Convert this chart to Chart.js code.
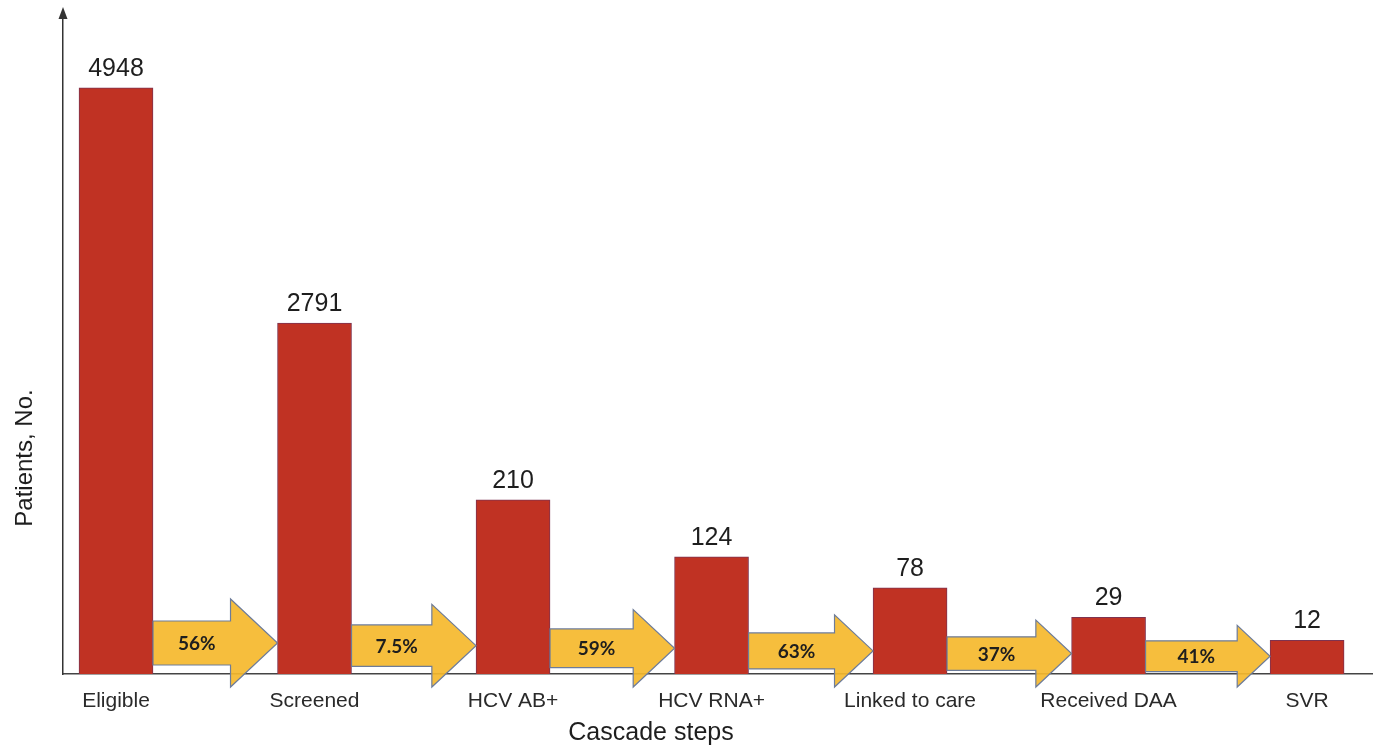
<!DOCTYPE html>
<html>
<head>
<meta charset="utf-8">
<title>HCV care cascade</title>
<script src="https://cdn.jsdelivr.net/npm/chart.js@4.4.1/dist/chart.umd.min.js"></script>
<style>
  html, body { margin: 0; padding: 0; background: #ffffff; }
  canvas { display: block; }
</style>
</head>
<body>
<canvas id="cascade" width="1374" height="745"></canvas>
<script>
// Cascade steps and patient counts at each step
const steps = ['Eligible', 'Screened', 'HCV AB+', 'HCV RNA+', 'Linked to care', 'Received DAA', 'SVR'];
const patients = [4948, 2791, 210, 124, 78, 29, 12];
// Share of patients carried from one step to the next
const conversion = ['56%', '7.5%', '59%', '63%', '37%', '41%'];

// Compressed value axis: [value, fraction of axis height] break points
const axisBreaks = [
  [0, 0], [10, 0.046], [25, 0.082], [50, 0.105], [100, 0.150],
  [200, 0.262], [1000, 0.340], [2500, 0.482], [5000, 0.894]
];

function valueToFraction(v) {
  if (v <= axisBreaks[0][0]) return 0;
  for (let i = 1; i < axisBreaks.length; i++) {
    const [v0, f0] = axisBreaks[i - 1];
    const [v1, f1] = axisBreaks[i];
    if (v <= v1) return f0 + (v - v0) / (v1 - v0) * (f1 - f0);
  }
  const [va, fa] = axisBreaks[axisBreaks.length - 2];
  const [vb, fb] = axisBreaks[axisBreaks.length - 1];
  return fb + (v - vb) / (vb - va) * (fb - fa);
}
function fractionToValue(f) {
  for (let i = 1; i < axisBreaks.length; i++) {
    const [v0, f0] = axisBreaks[i - 1];
    const [v1, f1] = axisBreaks[i];
    if (f <= f1) return v0 + (f - f0) / (f1 - f0) * (v1 - v0);
  }
  return axisBreaks[axisBreaks.length - 1][0];
}

// Piecewise scale so small and large counts share one axis
class CascadeScale extends Chart.LinearScale {
  getPixelForValue(value) {
    return this.getPixelForDecimal(valueToFraction(value));
  }
  getValueForPixel(pixel) {
    return fractionToValue(this.getDecimalForPixel(pixel));
  }
}
CascadeScale.id = 'cascade';
CascadeScale.defaults = Chart.LinearScale.defaults;
Chart.register(CascadeScale);

const TEXT = '#1e1e1e';
const AXIS = '#444444';
const SANS = '"Liberation Sans", Arial, sans-serif';

// Step-to-step arrows with conversion percentages
const stepArrows = {
  id: 'stepArrows',
  afterDatasetsDraw(chart) {
    const ctx = chart.ctx;
    const bars = chart.getDatasetMeta(0).data;
    const baseY = chart.chartArea.bottom;
    ctx.save();
    conversion.forEach((label, i) => {
      const a = bars[i].getProps(['x', 'width'], true);
      const b = bars[i + 1].getProps(['x', 'width'], true);
      const s = 1 - 0.06 * i;
      const bodyHalf = 22 * s, headHalf = 44 * s, headLen = 47 * s;
      const cy = baseY + 13 - headHalf;
      const x0 = a.x + a.width / 2;
      const tip = b.x - b.width / 2;
      const hx = tip - headLen;
      ctx.beginPath();
      ctx.moveTo(x0, cy - bodyHalf);
      ctx.lineTo(hx, cy - bodyHalf);
      ctx.lineTo(hx, cy - headHalf);
      ctx.lineTo(tip, cy);
      ctx.lineTo(hx, cy + headHalf);
      ctx.lineTo(hx, cy + bodyHalf);
      ctx.lineTo(x0, cy + bodyHalf);
      ctx.closePath();
      ctx.globalAlpha = 0.92;
      ctx.fillStyle = '#F5B82D';
      ctx.fill();
      ctx.globalAlpha = 1;
      ctx.lineWidth = 1.2;
      ctx.strokeStyle = '#6D7C9A';
      ctx.stroke();
      ctx.fillStyle = TEXT;
      ctx.font = 'bold 19px Lato, "Open Sans", sans-serif';
      ctx.textAlign = 'center';
      ctx.textBaseline = 'middle';
      ctx.fillText(label, (x0 + hx) / 2 + 5, cy + 1);
    });
    ctx.restore();
  }
};

// Counts above bars, y-axis arrowhead and axis titles
const decorations = {
  id: 'decorations',
  afterDraw(chart) {
    const ctx = chart.ctx;
    const area = chart.chartArea;
    const bars = chart.getDatasetMeta(0).data;
    ctx.save();
    ctx.fillStyle = TEXT;
    ctx.font = '25px ' + SANS;
    ctx.textAlign = 'center';
    ctx.textBaseline = 'alphabetic';
    bars.forEach((bar, i) => {
      const p = bar.getProps(['x', 'y'], true);
      ctx.fillText(String(patients[i]), p.x, p.y - 12);
    });

    // arrowhead on the value axis
    ctx.fillStyle = '#333333';
    ctx.beginPath();
    ctx.moveTo(area.left, area.top - 5);
    ctx.lineTo(area.left - 4.5, area.top + 7);
    ctx.lineTo(area.left + 4.5, area.top + 7);
    ctx.closePath();
    ctx.fill();

    // category axis title
    ctx.fillStyle = TEXT;
    ctx.font = '25px ' + SANS;
    ctx.textAlign = 'center';
    ctx.textBaseline = 'middle';
    ctx.fillText('Cascade steps', 651, 733);

    // value axis title
    ctx.translate(25, 458);
    ctx.rotate(-Math.PI / 2);
    ctx.font = '24px ' + SANS;
    ctx.fillText('Patients, No.', 0, 0);
    ctx.restore();
  }
};

new Chart(document.getElementById('cascade'), {
  type: 'bar',
  data: {
    datasets: [{
      data: patients.map((v, i) => ({ x: i, y: v })),
      backgroundColor: '#C03223',
      borderColor: '#7E3350',
      borderWidth: 1,
      barThickness: 74
    }]
  },
  options: {
    responsive: false,
    animation: false,
    layout: { padding: { top: 12, left: 63, right: 2, bottom: 0 } },
    plugins: { legend: { display: false }, tooltip: { enabled: false } },
    scales: {
      x: {
        type: 'linear',
        offset: false,
        min: -0.267,
        max: 6.327,
        afterBuildTicks(scale) {
          scale.ticks = steps.map((_, i) => ({ value: i }));
        },
        afterFit(scale) {
          scale.height = 71;
        },
        ticks: {
          callback: (v) => steps[v] ?? '',
          autoSkip: false,
          maxRotation: 0,
          padding: 15,
          color: '#2a2a2a',
          font: { family: SANS, size: 21 }
        },
        grid: { display: false, drawTicks: false, offset: false },
        border: { display: true, color: AXIS, width: 1.5 },
        title: { display: false }
      },
      y: {
        type: 'cascade',
        min: 0,
        max: 5000,
        ticks: { display: false },
        grid: { display: false, drawTicks: false },
        border: { display: true, color: '#333333', width: 1.5 }
      }
    }
  },
  plugins: [stepArrows, decorations]
});
</script>
</body>
</html>
